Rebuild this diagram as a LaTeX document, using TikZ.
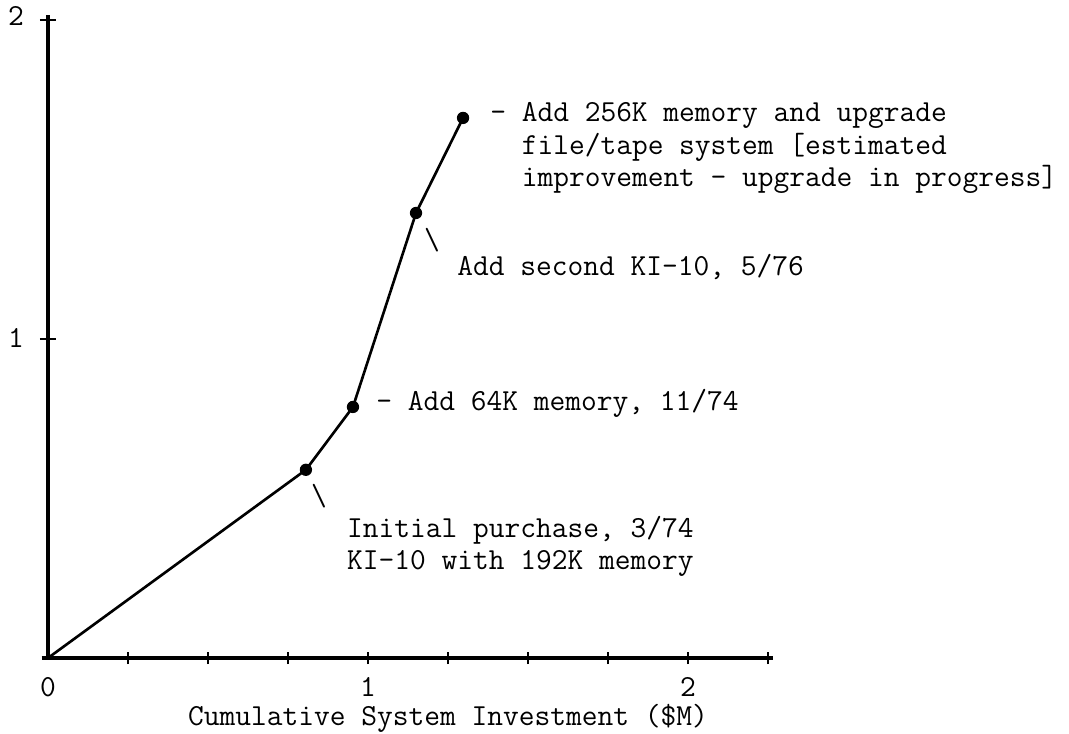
\documentclass[tikz,border=0pt]{standalone}
\usetikzlibrary{positioning}
\begin{document}
\begin{tikzpicture}[x=6.4cm, y=6.38cm,
		font=\ttfamily\fontsize{17.4}{18.3}\selectfont,
		axis/.style={line width=1.9pt},
		curve/.style={line width=1.5pt},
		dot/.style={circle, fill=black, inner sep=0pt, minimum size=7pt},
		note/.style={anchor=base west, align=left, inner sep=0pt}]
			\useasboundingbox (-0.15, -0.2382) rectangle (3.1906, 2.0627);

			% axes
			\coordinate (o) at (0, 0);
			\coordinate (xend) at (2.266, 0);
			\coordinate (yend) at (0, 2.016);
			\draw[axis] (-0.02, 0) -- (xend);
			\draw[axis] (o) -- (yend);
			\foreach \x in {0.25, 0.5, ..., 2.25}
				\draw[line width=1.1pt] (\x, -0.019) -- (\x, 0.019);
			\foreach \y in {1, 2}
				\draw[line width=1.3pt] (-0.025, \y) -- (0.025, \y);

			\node[anchor=base] (x0) at (0, -0.122) {0};
			\node[anchor=base] (x1) at (1, -0.122) {1};
			\node[anchor=base] (x2) at (2, -0.122) {2};
			\node[anchor=base] (y1) at (-0.1, 0.972) {1};
			\node[anchor=base] (y2) at (-0.1, 1.984) {2};
			\node[anchor=base, inner sep=0pt] (xlabel) at (1.25, -0.213) {Cumulative System Investment (\$M)};

			% upgrade steps
			\node[dot] (p1) at (0.806, 0.59) {};
			\node[dot] (p2) at (0.953, 0.787) {};
			\node[dot] (p3) at (1.15, 1.395) {};
			\node[dot] (p4) at (1.297, 1.693) {};
			\draw[curve] (o) -- (p1.center) -- (p2.center) -- (p3.center) -- (p4.center);

			\node[note] (n4) at (1.381, 1.479) {- Add 256K memory and upgrade\\
				~~file/tape system [estimated\\
				~~improvement - upgrade in progress]};
			\node (m3) at (1.2, 1.31) {\textbackslash};
			\node[note] (n3) at (1.278, 1.20) {Add second KI-10, 5/76};
			\node[note] (n2) at (1.025, 0.777) {- Add 64K memory, 11/74};
			\node (m1) at (0.847, 0.508) {\textbackslash};
			\node[note] (n1) at (0.934, 0.276) {Initial purchase, 3/74\\
				KI-10 with 192K memory};
		\end{tikzpicture}
\end{document}
